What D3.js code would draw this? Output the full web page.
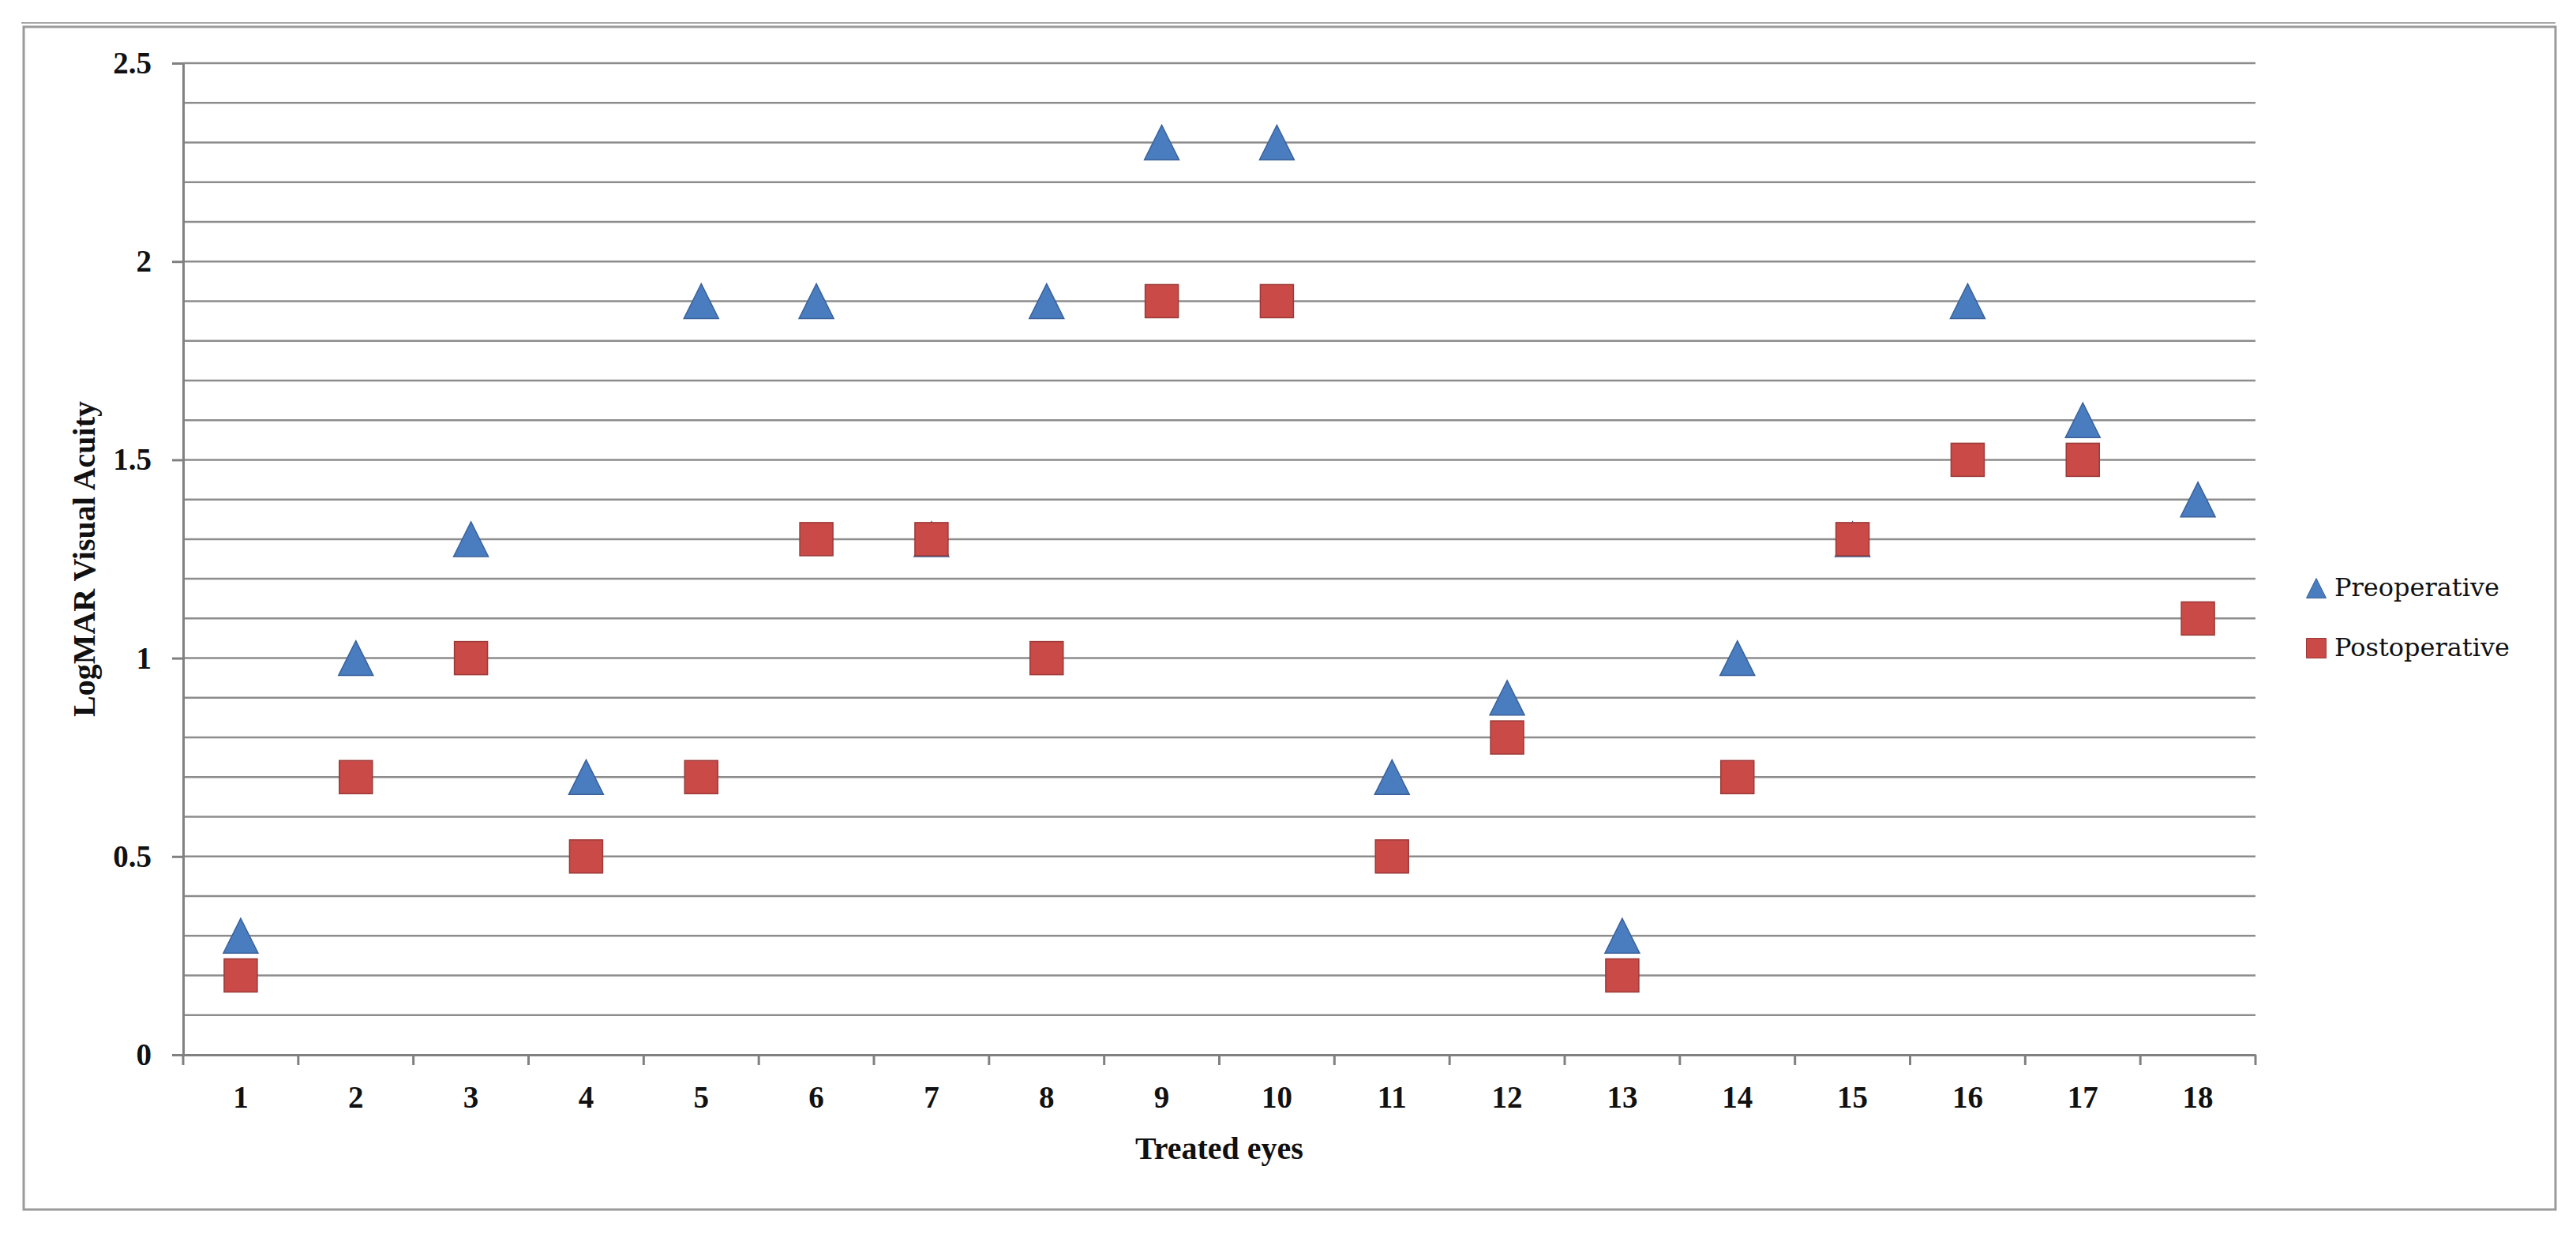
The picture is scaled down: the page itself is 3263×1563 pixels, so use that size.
<!DOCTYPE html>
<html>
<head>
<meta charset="utf-8">
<script src="https://cdn.jsdelivr.net/npm/d3@7"></script>
<style>
  body { margin: 0; background: #fff; }
  svg { display: block; }
</style>
</head>
<body>
<div id="graf"></div>
<script>
// datos
const ojos = ['1', '2', '3', '4', '5', '6', '7', '8', '9', '10', '11', '12', '13', '14', '15', '16', '17', '18']
const preoperatorio = [0.3, 1.0, 1.3, 0.7, 1.9, 1.9, 1.3, 1.9, 2.3, 2.3, 0.7, 0.9, 0.3, 1.0, 1.3, 1.9, 1.6, 1.4]
const postoperatorio = [0.2, 0.7, 1.0, 0.5, 0.7, 1.3, 1.3, 1.0, 1.9, 1.9, 0.5, 0.8, 0.2, 0.7, 1.3, 1.5, 1.5, 1.1]
const yTicks = [0, 0.5, 1, 1.5, 2, 2.5]
const series = ['Preoperative', 'Postoperative']

const anchoTotal = 3263
const altoTotal = 1563
const fuente = '"Liberation Serif", "Times New Roman", serif'

const svg = d3.select('#graf')
  .append('svg')
  .attr('width', anchoTotal)
  .attr('height', altoTotal)

// marco exterior
svg.append('line')
  .attr('x1', 27).attr('x2', 3237)
  .attr('y1', 29).attr('y2', 29)
  .attr('stroke', '#a8a8a8')
  .attr('stroke-width', 2)

svg.append('rect')
  .attr('x', 30).attr('y', 34)
  .attr('width', 3207).attr('height', 1498)
  .attr('fill', 'none')
  .attr('stroke', '#9a9a9a')
  .attr('stroke-width', 3)

const margin = { top: 80, left: 232, right: 406, bottom: 227 }
const ancho = anchoTotal - margin.left - margin.right
const alto = altoTotal - margin.top - margin.bottom

const g = svg.append('g')
  .attr('transform', `translate(${margin.left}, ${margin.top})`)

const x = d3.scaleBand()
  .domain(ojos)
  .range([0, ancho])
  .padding(0)

const y = d3.scaleLinear()
  .domain([0, 2.5])
  .range([alto, 0])

// lineas de cuadricula cada 0.1
g.append('g')
  .selectAll('line')
  .data(d3.range(1, 26).map(i => i / 10))
  .join('line')
    .attr('x1', 0)
    .attr('x2', ancho)
    .attr('y1', d => y(d))
    .attr('y2', d => y(d))
    .attr('stroke', '#8c8c8c')
    .attr('stroke-width', 2.5)

// eje Y
const yAxisGroup = g.append('g')
  .call(
    d3.axisLeft(y)
      .tickValues(yTicks)
      .tickSize(14)
      .tickSizeOuter(0)
      .tickPadding(26)
      .tickFormat(d => d)
  )
yAxisGroup.selectAll('path, line')
  .attr('stroke', '#808080')
  .attr('stroke-width', 3)
yAxisGroup.selectAll('text')
  .attr('font-family', fuente)
  .attr('font-weight', 'bold')
  .attr('font-size', 39)
  .attr('fill', '#111')

// eje X
const xAxisGroup = g.append('g')
  .attr('transform', `translate(0, ${alto})`)
  .call(
    d3.axisBottom(x)
      .tickSize(0)
      .tickSizeOuter(0)
      .tickPadding(39)
  )
xAxisGroup.select('path')
  .attr('stroke', '#808080')
  .attr('stroke-width', 3)
xAxisGroup.selectAll('text')
  .attr('font-family', fuente)
  .attr('font-weight', 'bold')
  .attr('font-size', 39)
  .attr('fill', '#111')

// marcas en los limites de cada categoria
xAxisGroup.append('g')
  .selectAll('line')
  .data(ojos.map(d => x(d)).concat([ancho]))
  .join('line')
    .attr('x1', d => d)
    .attr('x2', d => d)
    .attr('y1', 0)
    .attr('y2', 13)
    .attr('stroke', '#808080')
    .attr('stroke-width', 3)

// titulos
svg.append('text')
  .attr('x', margin.left + ancho / 2)
  .attr('y', 1468)
  .attr('text-anchor', 'middle')
  .attr('font-family', fuente)
  .attr('font-weight', 'bold')
  .attr('font-size', 40)
  .attr('fill', '#111')
  .text('Treated eyes')

svg.append('text')
  .attr('transform', `translate(120, ${margin.top + alto / 2}) rotate(-90)`)
  .attr('text-anchor', 'middle')
  .attr('font-family', fuente)
  .attr('font-weight', 'bold')
  .attr('font-size', 40)
  .attr('fill', '#111')
  .text('LogMAR Visual Acuity')

// marcadores
const colores = { Preoperative: '#4a7dbf', Postoperative: '#c94a47' }
const bordes = { Preoperative: '#3a619a', Postoperative: '#9c3a38' }

const cx = i => x(ojos[i]) + x.bandwidth() / 2

// triangulo con su caja centrada en el valor
function triangulo(s) {
  const w = s, h = s
  return `M0,${-h / 2}L${w / 2},${h / 2}L${-w / 2},${h / 2}Z`
}

g.append('g')
  .selectAll('path')
  .data(preoperatorio)
  .join('path')
    .attr('d', triangulo(44))
    .attr('transform', (d, i) => `translate(${cx(i)}, ${y(d)})`)
    .attr('fill', colores.Preoperative)
    .attr('stroke', bordes.Preoperative)
    .attr('stroke-width', 1.5)

g.append('g')
  .selectAll('rect')
  .data(postoperatorio)
  .join('rect')
    .attr('x', (d, i) => cx(i) - 21)
    .attr('y', d => y(d) - 21)
    .attr('width', 42)
    .attr('height', 42)
    .attr('fill', colores.Postoperative)
    .attr('stroke', bordes.Postoperative)
    .attr('stroke-width', 1.5)

// leyenda
const leyenda = svg.append('g')
  .attr('transform', 'translate(2934, 745)')

const item = leyenda.selectAll('g')
  .data(series)
  .join('g')
    .attr('transform', (d, i) => `translate(0, ${i * 76})`)

item.append('path')
  .attr('d', (d, i) => i === 0 ? triangulo(25) : 'M-12.5,-12.5h25v25h-25Z')
  .attr('fill', d => colores[d])
  .attr('stroke', d => bordes[d])
  .attr('stroke-width', 1)

item.append('text')
  .attr('x', 23)
  .attr('y', 10)
  .attr('font-family', '"DejaVu Serif", serif')
  .attr('font-size', 32)
  .attr('fill', '#111')
  .text(d => d)
</script>
</body>
</html>
